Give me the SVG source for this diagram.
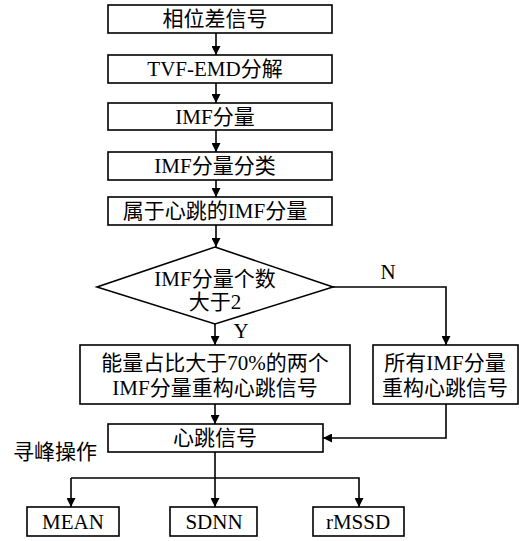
<svg xmlns="http://www.w3.org/2000/svg" width="519" height="541" viewBox="0 0 519 541">
<defs>
<marker id="ah" viewBox="0 0 10 10" refX="10" refY="5" markerWidth="9" markerHeight="9" markerUnits="userSpaceOnUse" orient="auto">
<path d="M0,0 L10,5 L0,10 z" fill="#000"/>
</marker>
<style>
rect,polygon.d{fill:#fff;stroke:#000;stroke-width:1.6}
text{font-family:"Liberation Serif","Noto Sans CJK SC",serif;font-size:21px;fill:#000;text-anchor:middle}
.c{fill:none;stroke:#000;stroke-width:1.6}
</style>
</defs>
<rect width="519" height="541" fill="#fff" style="stroke:none"/>
<g id="connectors">
<line class="c" x1="216" y1="33" x2="216" y2="55" marker-end="url(#ah)"/>
<line class="c" x1="216" y1="83" x2="216" y2="103" marker-end="url(#ah)"/>
<line class="c" x1="216" y1="130" x2="216" y2="152" marker-end="url(#ah)"/>
<line class="c" x1="216" y1="180" x2="216" y2="197" marker-end="url(#ah)"/>
<line class="c" x1="216" y1="225" x2="216" y2="247" marker-end="url(#ah)"/>
<line class="c" x1="215" y1="324" x2="215" y2="345" marker-end="url(#ah)"/>
<polyline class="c" points="333,287 446,287 446,345" marker-end="url(#ah)"/>
<line class="c" x1="215" y1="404" x2="215" y2="424" marker-end="url(#ah)"/>
<polyline class="c" points="446,404 446,438 323,438" marker-end="url(#ah)"/>
<line class="c" x1="215" y1="452" x2="215" y2="507" marker-end="url(#ah)"/>
<polyline class="c" points="71,478 359,478 359,507" marker-end="url(#ah)"/>
<line class="c" x1="71" y1="478" x2="71" y2="507" marker-end="url(#ah)"/>
<text x="388" y="279">N</text>
<text x="241" y="338">Y</text>
</g>
<g id="n1"><rect x="108" y="5" width="224" height="28"/><text x="215" y="26">相位差信号</text></g>
<g id="n2"><rect x="108" y="55" width="224" height="28"/><text x="215" y="76">TVF-EMD分解</text></g>
<g id="n3"><rect x="108" y="103" width="224" height="27"/><text x="215" y="124">IMF分量</text></g>
<g id="n4"><rect x="108" y="152" width="224" height="28"/><text x="215" y="173">IMF分量分类</text></g>
<g id="n5"><rect x="108" y="197" width="224" height="28"/><text x="215" y="218">属于心跳的IMF分量</text></g>
<g id="n6"><polygon class="d" points="215,247 333,287 215,324 97,287"/><text x="215" y="286">IMF分量个数</text><text x="215" y="309">大于2</text></g>
<g id="n7"><rect x="80" y="345" width="270" height="59"/><text x="215" y="370">能量占比大于70%的两个</text><text x="215" y="395">IMF分量重构心跳信号</text></g>
<g id="n8"><rect x="373" y="345" width="145" height="59"/><text x="445" y="370">所有IMF分量</text><text x="445" y="395">重构心跳信号</text></g>
<g id="n9"><rect x="108" y="424" width="215" height="28"/><text x="215" y="445">心跳信号</text></g>
<g id="lbl"><text x="55" y="459">寻峰操作</text></g>
<g id="n10"><rect x="27" y="507" width="92" height="29"/><text x="73" y="529">MEAN</text></g>
<g id="n11"><rect x="170" y="507" width="87" height="29"/><text x="214" y="529">SDNN</text></g>
<g id="n12"><rect x="313" y="507" width="91" height="29"/><text x="358" y="529">rMSSD</text></g>
</svg>
